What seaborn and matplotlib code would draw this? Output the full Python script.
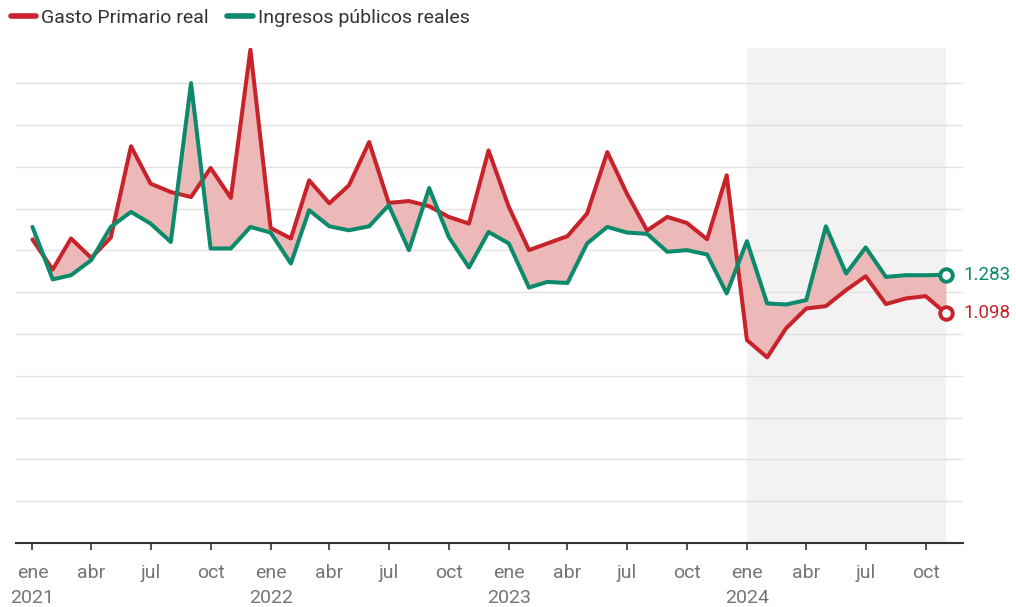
import matplotlib
matplotlib.use("Agg")
import matplotlib.pyplot as plt
import matplotlib.dates as mdates
from matplotlib.lines import Line2D
import seaborn as sns
import pandas as pd
import numpy as np

# ---- data ----
months = pd.date_range("2021-01-01", periods=47, freq="MS")
gasto = [1.452, 1.308, 1.457, 1.364, 1.461, 1.898, 1.719, 1.679, 1.655, 1.794,
         1.651, 2.360, 1.507, 1.457, 1.735, 1.625, 1.711, 1.918, 1.627, 1.636,
         1.611, 1.560, 1.528, 1.878, 1.608, 1.401, 1.433, 1.468, 1.576, 1.870,
         1.672, 1.495, 1.560, 1.531, 1.453, 1.759, 0.971, 0.888, 1.027, 1.122,
         1.133, 1.210, 1.276, 1.143, 1.170, 1.181, 1.098]
ingresos = [1.512, 1.261, 1.281, 1.353, 1.512, 1.584, 1.528, 1.440, 2.200, 1.409,
            1.409, 1.512, 1.485, 1.337, 1.592, 1.515, 1.496, 1.515, 1.616, 1.401,
            1.698, 1.464, 1.318, 1.488, 1.433, 1.222, 1.249, 1.244, 1.433, 1.512,
            1.485, 1.479, 1.393, 1.401, 1.380, 1.194, 1.444, 1.146, 1.141, 1.162,
            1.515, 1.289, 1.414, 1.273, 1.281, 1.281, 1.283]
series_names = ["Gasto Primario real", "Ingresos públicos reales"]
tick_months = ["ene", "abr", "jul", "oct"]
years = ["2021", "2022", "2023", "2024"]
end_labels = ["1.098", "1.283"]

RED = "#c8232b"
GREEN = "#0b8a6c"
FILL = "#ecb8b8"

df = pd.DataFrame({"fecha": list(months) * 2,
                   "valor": gasto + ingresos,
                   "serie": [series_names[0]] * 47 + [series_names[1]] * 47})

sns.set_theme(style="white")
plt.rcParams["font.family"] = ["Roboto", "DejaVu Sans"]

fig = plt.figure(figsize=(10.16, 6.07), dpi=100)
ax = fig.add_axes([16 / 1016, (607 - 543) / 607, (963 - 16) / 1016, (543 - 48) / 607])

xnum = mdates.date2num(months)
month_w = (xnum[-1] - xnum[0]) / 46.0

# shaded 2024 region
ax.axvspan(months[36], months[46], color="#f2f2f2", zorder=0, lw=0)

# grid
for gy in np.arange(0.2, 2.21, 0.2):
    ax.axhline(gy, color="#e1e1e1", lw=1.0, zorder=1)

ax.fill_between(months, gasto, ingresos, color=FILL, lw=0, zorder=2)

sns.lineplot(data=df, x="fecha", y="valor", hue="serie",
             palette={series_names[0]: RED, series_names[1]: GREEN},
             linewidth=2.9, ax=ax, zorder=3, legend=False)

# end markers and labels
for vals, col, lab in [(gasto, RED, end_labels[0]), (ingresos, GREEN, end_labels[1])]:
    ax.plot([months[-1]], [vals[-1]], marker="o", ms=9, mfc="white", mec=col,
            mew=2.8, zorder=5, clip_on=False)
    ax.annotate(lab, xy=(months[-1], vals[-1]), xytext=(12.5, 0),
                textcoords="offset points", va="center", ha="left",
                color=col, fontsize=13.5)

ax.set_xlim(xnum[0] - 0.83 * month_w, xnum[-1] + 0.86 * month_w)
ax.set_ylim(0, 2.368)

# ticks
tick_pos = [months[i] for i in range(0, 47, 3)]
tick_lab = []
for i in range(0, 47, 3):
    m = tick_months[(i % 12) // 3]
    if i % 12 == 0:
        tick_lab.append(m + "\n" + years[i // 12])
    else:
        tick_lab.append(m)
ax.set_xticks(tick_pos)
ax.set_xticklabels(tick_lab, fontsize=14, color="#757575", linespacing=1.5)
ax.tick_params(axis="x", length=5, width=1.2, color="#333333", pad=10, direction="out",
               bottom=True)
ax.set_yticks([])
ax.set_xlabel("")
ax.set_ylabel("")

for s in ["top", "right", "left"]:
    ax.spines[s].set_visible(False)
ax.spines["bottom"].set_color("#333333")
ax.spines["bottom"].set_linewidth(1.5)

# legend
handles = [Line2D([0], [0], color=RED, lw=4, solid_capstyle="round"),
           Line2D([0], [0], color=GREEN, lw=4, solid_capstyle="round")]
fig.legend(handles, series_names, loc="upper left", bbox_to_anchor=(-0.003, 1.008),
           ncol=2, frameon=False, fontsize=14, handlelength=1.3,
           handletextpad=0.28, columnspacing=0.95, labelcolor="#333333",
           borderaxespad=0.3)

fig.savefig("out.png", dpi=100)
